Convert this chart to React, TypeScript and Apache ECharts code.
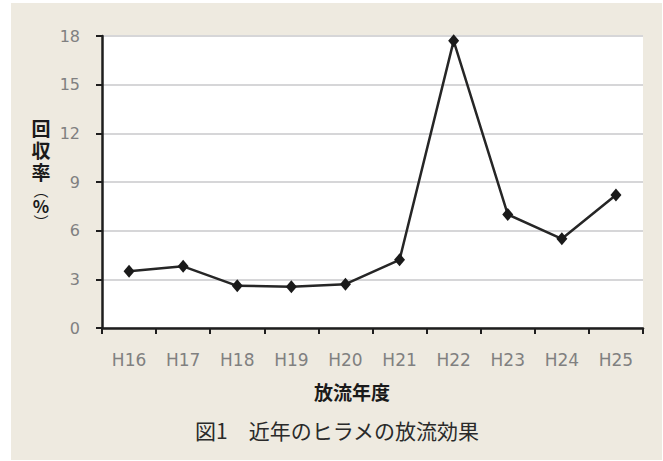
import React, { useEffect, useRef } from "react";
import * as echarts from "echarts";

const categories = ["H16", "H17", "H18", "H19", "H20", "H21", "H22", "H23", "H24", "H25"];
const recoveryRate = [3.5, 3.8, 2.6, 2.55, 2.7, 4.2, 17.7, 7.0, 5.5, 8.2];
const yMin = 0;
const yMax = 18;
const yInterval = 3;
const xAxisName = "放流年度";
const yAxisNameChars = ["回", "収", "率"];
const yAxisUnit = "%";
const caption = "図1　近年のヒラメの放流効果";

export default function App() {
  const ref = useRef<HTMLDivElement>(null);
  useEffect(() => {
    if (!ref.current) return;
    const chart = echarts.init(ref.current, null, { renderer: "svg" });
    const cjk = "Noto Sans CJK JP, sans-serif";
    const labelFont = "DejaVu Sans";
    const yNameRich =
      yAxisNameChars.map((c) => `{a|${c}}`).join("\n") +
      `\n{p|︵}\n{b|${yAxisUnit}}\n{p|︶}`;
    chart.setOption({
      animation: false,
      backgroundColor: "#ffffff",
      graphic: [
        {
          type: "rect",
          z: -10,
          silent: true,
          shape: { x: 11, y: 3, width: 651, height: 457 },
          style: { fill: "#EEEAE0" },
        },
        {
          type: "text",
          x: 41,
          y: 116,
          style: {
            text: yNameRich,
            align: "center",
            verticalAlign: "top",
            fill: "#1a1a1a",
            rich: {
              a: { fontFamily: cjk, fontWeight: "bold", fontSize: 19, lineHeight: 22, fill: "#1a1a1a", align: "center" },
              p: { fontFamily: cjk, fontSize: 15, lineHeight: 14, fill: "#1a1a1a", align: "center" },
              b: { fontFamily: cjk, fontWeight: "bold", fontSize: 17, lineHeight: 18, fill: "#1a1a1a", align: "center" },
            },
          },
        },
        {
          type: "text",
          x: 352,
          y: 391,
          style: { text: xAxisName, font: `bold 19px ${cjk}`, fill: "#1a1a1a", align: "center", verticalAlign: "middle" },
        },
        {
          type: "text",
          x: 337,
          y: 430,
          style: { text: caption, font: `21px ${cjk}`, fill: "#2a2a2a", align: "center", verticalAlign: "middle" },
        },
      ],
      grid: {
        left: 102,
        right: 20,
        top: 36,
        bottom: 133,
        show: true,
        backgroundColor: "#ffffff",
        borderWidth: 0,
      },
      xAxis: {
        type: "category",
        data: categories,
        boundaryGap: true,
        axisLine: { show: true, lineStyle: { color: "#1e1e1e", width: 2.5 } },
        axisTick: { show: true, inside: false, length: 6, lineStyle: { color: "#1e1e1e", width: 2 } },
        axisLabel: { margin: 23, color: "#808080", fontFamily: labelFont, fontSize: 17 },
        splitLine: { show: false },
      },
      yAxis: {
        type: "value",
        min: yMin,
        max: yMax,
        interval: yInterval,
        axisLine: { show: true, lineStyle: { color: "#1e1e1e", width: 2.5 } },
        axisTick: { show: true, inside: false, length: 6, lineStyle: { color: "#1e1e1e", width: 2 } },
        axisLabel: { margin: 22, color: "#808080", fontFamily: labelFont, fontSize: 16 },
        splitLine: { show: true, lineStyle: { color: "#d6d6d8", width: 2 } },
      },
      series: [
        {
          type: "line",
          data: recoveryRate,
          symbol: "diamond",
          symbolSize: [11, 13],
          itemStyle: { color: "#1a1a1a" },
          lineStyle: { color: "#262626", width: 2.5 },
        },
      ],
    });
    return () => chart.dispose();
  }, []);
  return (
    <div
      ref={ref}
      style={{ position: "fixed", left: 0, top: 0, width: 663, height: 461 }}
    />
  );
}
